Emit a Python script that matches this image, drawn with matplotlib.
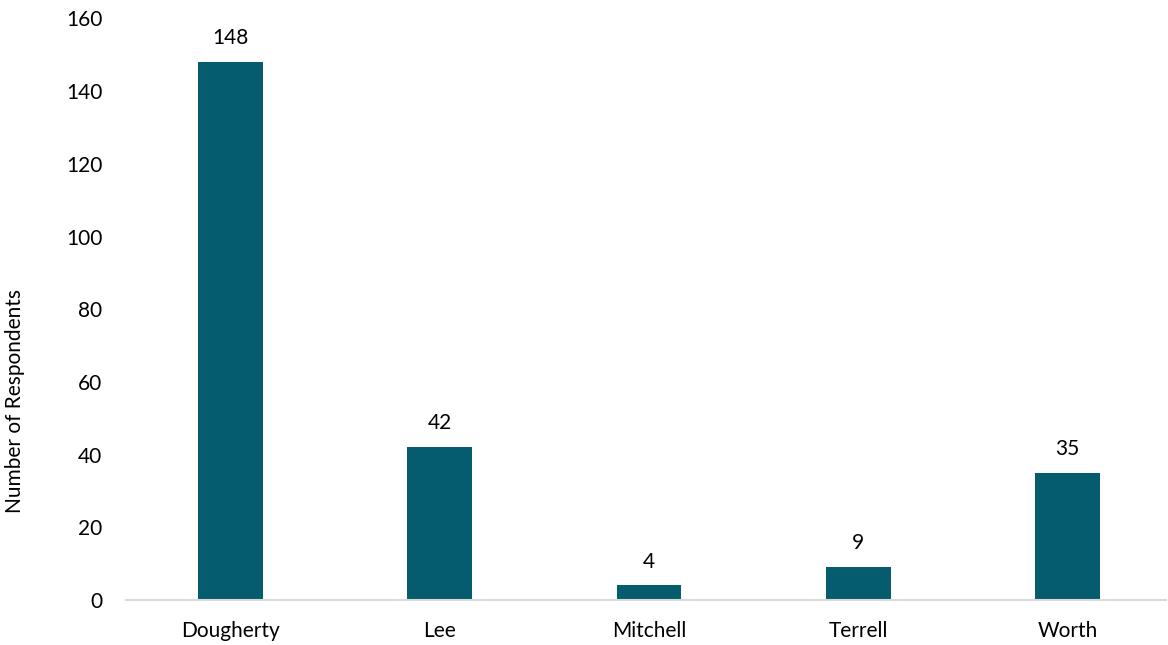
import matplotlib
matplotlib.use("Agg")
import matplotlib.pyplot as plt

categories = ["Dougherty", "Lee", "Mitchell", "Terrell", "Worth"]
values = [148, 42, 4, 9, 35]
yticks = [0, 20, 40, 60, 80, 100, 120, 140, 160]

plt.rcParams['font.family'] = ['Lato', 'DejaVu Sans']

fig = plt.figure(figsize=(11.68, 6.45), dpi=100)
ax = fig.add_axes([126/1168, 1-600/645, 1040/1168, (600-18.5)/645])

x = range(len(categories))
bars = ax.bar(x, values, width=0.31, color="#055C6E")
for xi, v in zip(x, values):
    ax.annotate(str(v), (xi, v), xytext=(0, 10), textcoords="offset points",
                ha="center", va="bottom", fontsize=15, color="black")

ax.set_xlim(-0.4994, 4.4707)
ax.set_ylim(0, 160)
ax.set_yticks(yticks)
ax.set_xticks(list(x))
ax.set_xticklabels(categories)
ax.tick_params(axis='both', length=0, labelsize=15, colors='black')
ax.tick_params(axis='y', pad=17)
ax.tick_params(axis='x', pad=15)
for s in ["top", "right", "left"]:
    ax.spines[s].set_visible(False)
ax.spines["bottom"].set_color("#D9D9D9")
ax.spines["bottom"].set_linewidth(1.5)
ax.set_ylabel("Number of Respondents", fontsize=15)
ax.yaxis.set_label_coords(-101/1040, 0.342)

fig.savefig("out.png", dpi=100)
